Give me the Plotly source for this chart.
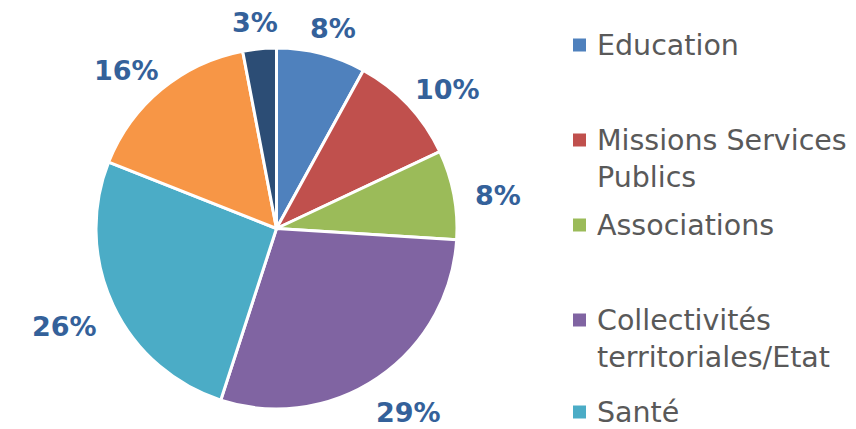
import math
import plotly.graph_objects as go

# Répartition par secteur (en %)
categories = ["Education", "Missions Services Publics", "Associations",
              "Collectivités territoriales/Etat", "Santé", "Autre (1)", "Autre (2)"]
values = [8, 10, 8, 29, 26, 16, 3]
colors = ["#4F81BD", "#C0504D", "#9BBB59", "#8064A2", "#4BACC6", "#F79646", "#2C4D75"]

# Legend entries (only the first five sectors), each split into its text lines
legend_lines = [["Education"], ["Missions Services", "Publics"], ["Associations"],
                ["Collectivités", "territoriales/Etat"], ["Santé"]]

W, H = 856, 429
LABEL_COLOR = "#34619A"
LEGEND_COLOR = "#595959"
FONT = "DejaVu Sans"
LABEL_SIZE = 27

# pie geometry in pixels
CX, CY, R = 276.5, 228.5, 180.5
LABEL_GAP = 22
BASELINE_SHIFT = 7  # annotation boxes include descender room; nudge digits down

fig = go.Figure(go.Pie(
    labels=categories,
    values=values,
    sort=False,
    direction="clockwise",
    rotation=0,
    marker=dict(colors=colors, line=dict(color="white", width=3)),
    textinfo="none",
    showlegend=False,
    hoverinfo="label+percent",
    domain=dict(x=[(CX - R) / W, (CX + R) / W], y=[1 - (CY + R) / H, 1 - (CY - R) / H]),
))

annotations, shapes = [], []

# Percentage labels placed just outside each slice, along its mid-angle
total = sum(values)
cum = 0
for v in values:
    mid = (cum + v / 2) / total * 2 * math.pi
    cum += v
    ux, uy = math.sin(mid), -math.cos(mid)
    txt = f"{v}%"
    w = 0.696 * LABEL_SIZE * (len(txt) - 1) + LABEL_SIZE
    h = 22
    px = CX + ux * (R + LABEL_GAP) + ux * w / 2
    py = CY + uy * (R + LABEL_GAP) + uy * h / 2 + BASELINE_SHIFT
    annotations.append(dict(text=f"<b>{txt}</b>", xref="paper", yref="paper",
                            x=px / W, y=1 - py / H, xanchor="center", yanchor="middle",
                            showarrow=False,
                            font=dict(family=FONT, size=LABEL_SIZE, color=LABEL_COLOR)))

# Hand-built legend: square swatch + text lines
sq = 13
swatch_y = [45, 140, 225, 320, 412]
line_gap = 37.5
for i, lines in enumerate(legend_lines):
    cy = swatch_y[i]
    shapes.append(dict(type="rect", xref="paper", yref="paper",
                       x0=573 / W, x1=(573 + sq) / W,
                       y0=1 - (cy + sq / 2) / H, y1=1 - (cy - sq / 2) / H,
                       fillcolor=colors[i], line=dict(width=0)))
    for j, txt in enumerate(lines):
        ty = cy + j * line_gap
        annotations.append(dict(text=txt, xref="paper", yref="paper",
                                x=595 / W, y=1 - ty / H, xanchor="left", yanchor="middle",
                                showarrow=False,
                                font=dict(family=FONT, size=28.5, color=LEGEND_COLOR)))

fig.update_layout(
    width=W, height=H,
    margin=dict(l=0, r=0, t=0, b=0),
    paper_bgcolor="white",
    plot_bgcolor="white",
    shapes=shapes,
    annotations=annotations,
)

fig.write_html("out.html")
